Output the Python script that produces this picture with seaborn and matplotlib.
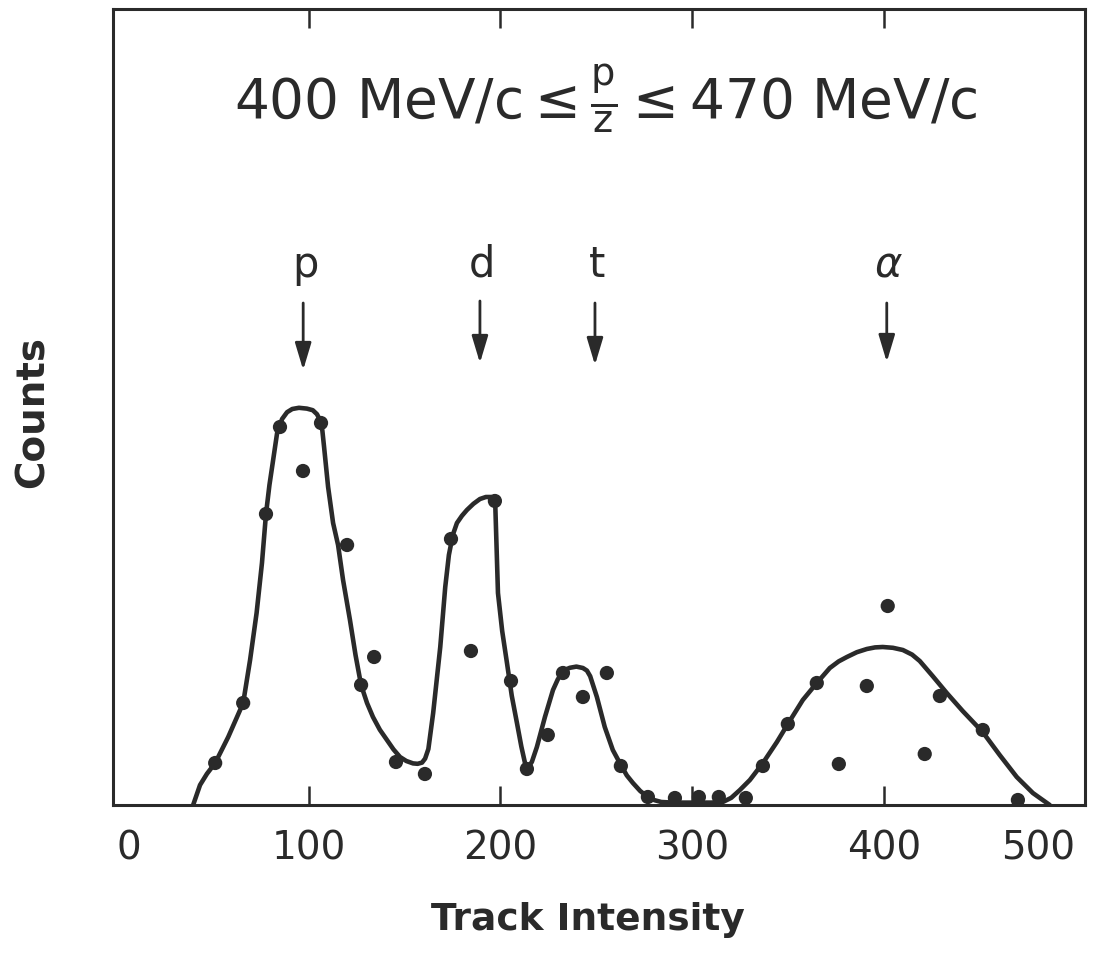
import matplotlib
matplotlib.use("Agg")
import matplotlib.pyplot as plt
import seaborn as sns
import pandas as pd

# ---------------- data ----------------
# measured points (track intensity, counts)
point_x = [51.3, 65.9, 77.8, 85.1, 97.1, 106.5, 120.1, 127.4, 134.2, 145.6,
           160.7, 174.3, 184.7, 197.2, 205.6, 213.9, 224.8, 232.7, 243.1, 255.6,
           262.9, 277.0, 291.1, 303.6, 314.0, 328.1, 337.0, 350.0, 365.1, 376.6,
           391.2, 402.1, 421.4, 429.3, 451.7, 470.0]
point_y = [10.5, 25.5, 72.75, 94.5, 83.5, 95.5, 65.0, 30.0, 37.0, 10.75,
           7.75, 66.5, 38.5, 76.0, 31.0, 9.0, 17.5, 33.0, 27.0, 33.0,
           9.75, 2.0, 1.75, 2.0, 2.0, 1.75, 9.75, 20.25, 30.5, 10.25,
           29.75, 49.75, 12.75, 27.25, 18.75, 1.25]

# fitted curve
curve_x = [39.8, 43.4, 47.0, 51.3, 58.1, 65.9, 69.5, 72.9, 75.7, 77.8,
           79.6, 81.3, 83.6, 86.2, 88.8, 91.5, 95.0, 99.1, 102.2, 104.4,
           106.0, 107.2, 108.1, 110.2, 112.8, 115.4, 118.0, 121.6, 124.5, 127.4,
           130.5, 133.6, 137.2, 140.9, 144.3, 147.7, 151.0, 154.5, 156.9, 159.2,
           160.8, 162.5, 165.0, 168.7, 171.3, 173.2, 175.3, 177.4, 180.0, 182.6,
           186.0, 189.4, 192.5, 195.2, 196.6, 197.4, 198.8, 201.0, 203.5, 206.0,
           208.7, 211.0, 212.9, 214.4, 216.5, 219.1, 223.3, 227.5, 230.0, 232.2,
           234.3, 236.3, 239.7, 243.1, 245.2, 246.9, 250.4, 254.5, 258.7, 262.9,
           266.0, 269.2, 273.0, 277.0, 280.5, 284.0, 290.0, 300.0, 310.0, 316.1,
           320.5, 325.0, 330.2, 337.0, 344.3, 350.0, 357.8, 365.1, 371.9, 376.5,
           380.8, 386.0, 391.2, 395.5, 399.5, 404.8, 410.0, 414.8, 418.8, 425.6,
           432.9, 441.2, 451.7, 460.5, 469.4, 477.8, 486.6]
curve_y = [0.0, 5.0, 7.8, 10.5, 17.0, 25.5, 36.25, 48.0, 60.5, 72.75,
           80.0, 85.5, 93.0, 96.5, 98.2, 99.0, 99.3, 99.1, 98.7, 97.7,
           96.2, 93.6, 89.5, 79.5, 70.5, 65.0, 56.25, 46.25, 37.5, 30.0,
           25.5, 22.0, 18.8, 16.25, 13.9, 12.0, 11.0, 10.4, 10.3, 10.6,
           11.6, 14.0, 23.0, 39.5, 54.5, 62.5, 67.6, 70.5, 72.3, 73.75,
           75.3, 76.5, 77.0, 77.0, 76.4, 75.0, 53.0, 43.5, 35.5, 27.3,
           20.5, 14.6, 10.5, 9.25, 10.8, 14.5, 22.0, 28.75, 31.4, 33.0,
           33.9, 34.3, 34.6, 34.25, 33.6, 32.2, 27.0, 19.5, 13.75, 10.0,
           7.4, 5.5, 3.5, 2.0, 1.2, 0.75, 0.6, 0.6, 0.6, 0.75,
           1.8, 3.75, 6.25, 10.5, 15.75, 20.25, 26.25, 30.5, 34.25, 35.9,
           37.0, 38.2, 39.0, 39.4, 39.5, 39.3, 38.75, 37.6, 36.0, 32.2,
           28.0, 23.5, 18.2, 12.5, 7.0, 3.0, 0.0]

# particle markers
particle_labels = ["p", "d", "t", r"$\alpha$"]
particle_x = [97.2, 189.4, 249.4, 401.6]
arrow_top = [125.5, 126.0, 125.5, 125.5]
arrow_tip = [108.75, 110.5, 110.0, 110.75]

xticks = [0, 100, 200, 300, 400, 500]
xtick_labels = ["0", "100", "200", "300", "400", "500"]

title_text = r"400 MeV/c$\leq\frac{\mathrm{p}}{\mathrm{z}}\leq$470 MeV/c"
x_label = "Track Intensity"
y_label = "Counts"

# ---------------- drawing ----------------
sns.set_theme(style="white")
plt.rcParams["font.family"] = ["DejaVu Sans"]
plt.rcParams["mathtext.fontset"] = "dejavusans"

ink = "#2a2a2a"

fig = plt.figure(figsize=(11.10, 9.55), dpi=100)
ax = fig.add_axes([113 / 1110, 1 - 805 / 955, (1085 - 113) / 1110, (805 - 9) / 955])

curve_df = pd.DataFrame({"x": curve_x, "y": curve_y})
pts_df = pd.DataFrame({"x": point_x, "y": point_y})

sns.lineplot(data=curve_df, x="x", y="y", sort=False, estimator=None,
             color=ink, linewidth=3.3, ax=ax, zorder=3,
             solid_joinstyle="round", solid_capstyle="round")
sns.scatterplot(data=pts_df, x="x", y="y", color=ink, s=105,
                edgecolor="none", ax=ax, zorder=4)

ax.set_xlim(-2, 505)
ax.set_ylim(0, 199)

for sp in ax.spines.values():
    sp.set_visible(True)
    sp.set_color(ink)
    sp.set_linewidth(2.2)

ax.set_xticks(xticks)
ax.set_xticklabels(xtick_labels)
ax.set_yticks([])
ax.tick_params(axis="x", direction="in", top=True, bottom=True,
               length=14, width=1.8, color=ink, pad=18,
               labelsize=28, labelcolor=ink)
major = ax.xaxis.get_major_ticks()
for t in (major[0], major[-1]):
    t.tick1line.set_visible(False)
    t.tick2line.set_visible(False)
labels = ax.get_xticklabels()
labels[0].set_ha("left")
labels[-1].set_ha("right")

ax.set_xlabel(x_label, fontsize=27, fontweight="bold", color=ink)
ax.xaxis.set_label_coords((588 - 113) / 972, (805 - 902) / 796)
ax.xaxis.label.set_va("top")
ax.set_ylabel(y_label, fontsize=28, fontweight="bold", color=ink)
ax.yaxis.set_label_coords((52 - 113) / 972, (805 - 412) / 796)

ax.text((606 - 113) / 972, (805 - 118) / 796, title_text, transform=ax.transAxes,
        ha="center", va="baseline", fontsize=39.5, color=ink)

for lab, x, y0, y1 in zip(particle_labels, particle_x, arrow_top, arrow_tip):
    ax.text(x + 1.0, 132, lab, ha="center", va="baseline", fontsize=30, color=ink)
    ax.annotate("", xy=(x, y1), xytext=(x, y0),
                arrowprops=dict(arrowstyle="-|>,head_length=1.1,head_width=0.33",
                                mutation_scale=15, lw=2.0, color=ink,
                                shrinkA=0, shrinkB=0))

fig.savefig("out.png", dpi=100, facecolor="white")
